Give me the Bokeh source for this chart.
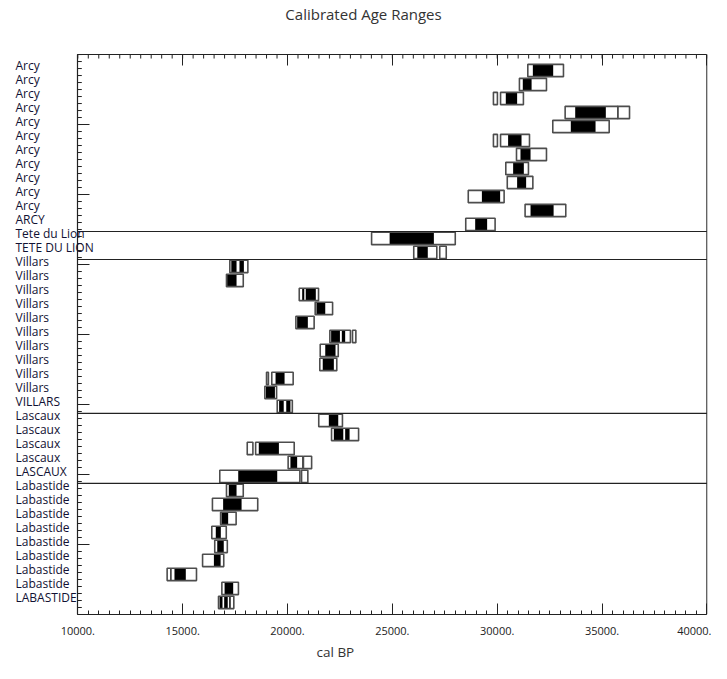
from bokeh.plotting import figure
from bokeh.models import (Range1d, LinearAxis, FixedTicker, CustomJSTickFormatter,
                          ColumnDataSource, LabelSet, Label, Title)
from bokeh.core.properties import value
from bokeh.embed import file_html
from bokeh.resources import INLINE

# ---------------- data ----------------
sample_labels = (["Arcy"] * 11 + ["ARCY"] + ["Tete du Lion", "TETE DU LION"] +
                 ["Villars"] * 10 + ["VILLARS"] + ["Lascaux"] * 4 + ["LASCAUX"] +
                 ["Labastide"] * 8 + ["LABASTIDE"])

# 2-sigma ranges (white boxes), cal BP, one list per row (top to bottom)
two_sigma = [
    [(31460, 33160)],
    [(31060, 32350)],
    [(29820, 30010), (30160, 31250)],
    [(33240, 35750), (35750, 36310)],
    [(32650, 35340)],
    [(29820, 30010), (30160, 31540)],
    [(30920, 32350)],
    [(30410, 31490)],
    [(30480, 31700)],
    [(28620, 30330)],
    [(31330, 33270)],
    [(28500, 29900)],
    [(24010, 28000)],
    [(26020, 27120), (27260, 27570)],
    [(17250, 18110)],
    [(17090, 17890)],
    [(20560, 21480)],
    [(21320, 22150)],
    [(20400, 21270)],
    [(22020, 23000), (23100, 23260)],
    [(21560, 22420)],
    [(21540, 22350)],
    [(19000, 19090), (19250, 20270)],
    [(18920, 19480)],
    [(19510, 20230)],
    [(21490, 22620)],
    [(22100, 23390)],
    [(18080, 18350), (18480, 20320)],
    [(20030, 20730), (20760, 21150)],
    [(16770, 20590), (20670, 20970)],
    [(17090, 17890)],
    [(16420, 18580)],
    [(16810, 17550)],
    [(16390, 17080)],
    [(16530, 17130)],
    [(15950, 16960)],
    [(14260, 15660)],
    [(16870, 17660)],
    [(16710, 17440)],
]

# 1-sigma ranges (black fills)
one_sigma = [
    [(31700, 32670)],
    [(31220, 31640)],
    [(30410, 30950)],
    [(33720, 35180)],
    [(33510, 34690)],
    [(30520, 31160)],
    [(31110, 31590)],
    [(30760, 31270)],
    [(30950, 31380)],
    [(29270, 30140)],
    [(31590, 32690)],
    [(28950, 29520)],
    [(24870, 26980)],
    [(26190, 26690)],
    [(17320, 17570), (17710, 17920)],
    [(17120, 17570)],
    [(20700, 20800), (20870, 21350)],
    [(21380, 21800)],
    [(20460, 20970)],
    [(22080, 22500), (22590, 22750)],
    [(21800, 22290)],
    [(21680, 22210)],
    [(19430, 19860)],
    [(18970, 19400)],
    [(19600, 19820), (19940, 20140)],
    [(21970, 22420)],
    [(22210, 22660), (22750, 22960)],
    [(18630, 19590)],
    [(20140, 20460)],
    [(17650, 19510)],
    [(17200, 17570)],
    [(16930, 17810)],
    [(16850, 17170)],
    [(16580, 16820)],
    [(16650, 16960)],
    [(16490, 16810)],
    [(14410, 14470), (14610, 15150)],
    [(17000, 17410)],
    [(16760, 16900), (16980, 17150), (17220, 17290)],
]

group_sizes = [12, 2, 11, 5, 9]

x_tick_values = [10000, 15000, 20000, 25000, 30000, 35000, 40000]
x_tick_labels = ["10000.", "15000.", "20000.", "25000.", "30000.", "35000.", "40000."]

title_text = "Calibrated Age Ranges"
x_title = "cal BP"

# ---------------- layout ----------------
# rows run downward: row i is drawn at y = -(i + ROW_OFF); box spans y 0 .. -40
ROW_OFF = 1.14
HALF_H = 0.44
FONT = "Open Sans"
X0, X1 = x_tick_values[0], x_tick_values[-1]
YTOP, YBOT = 0, -40
UPP = 47.69         # x data units per pixel
PPY = 13.99         # pixels per y unit
AX = "#222222"

def row_y(i):
    return -(i + ROW_OFF)

def flatten(ranges):
    l, r, t, b = [], [], [], []
    for i, row in enumerate(ranges):
        yc = row_y(i)
        for a, c in row:
            l.append(a); r.append(c); t.append(yc + HALF_H); b.append(yc - HALF_H)
    return ColumnDataSource(dict(left=l, right=r, top=t, bottom=b))

outer_src = flatten(two_sigma)
inner_src = flatten(one_sigma)

p = figure(width=711, height=663, output_backend="svg", toolbar_location=None,
           x_range=Range1d(X0 - 77.3 * UPP, X1 + 0.6 * UPP),
           y_range=Range1d(YBOT, YTOP + 54 / PPY),
           x_axis_type=None, y_axis_type=None,
           min_border_left=0, min_border_right=4, min_border_top=0,
           min_border_bottom=49)
p.grid.visible = False
p.outline_line_color = None
p.background_fill_color = "white"
p.border_fill_color = "white"

minor_x = [X0 + 500 * i for i in range(61)]
minor_y = [YBOT + 0.5 * i for i in range(81)]
blank = CustomJSTickFormatter(code="return ''")

def style(ax, major_len, minor_len):
    ax.axis_line_color = AX
    ax.axis_line_width = 1.2
    ax.major_tick_line_color = AX
    ax.minor_tick_line_color = AX if minor_len else None
    ax.major_tick_in = major_len
    ax.major_tick_out = 0
    ax.minor_tick_in = minor_len
    ax.minor_tick_out = 0

xb = LinearAxis(ticker=FixedTicker(ticks=x_tick_values, minor_ticks=minor_x), bounds=(X0, X1))
xb.major_label_overrides = {v: s for v, s in zip(x_tick_values, x_tick_labels)}
xb.major_label_text_font = FONT
xb.major_label_text_font_size = "11px"
xb.major_label_text_color = AX
xb.major_label_standoff = 12
style(xb, 11, 4)
p.add_layout(xb, "below")

xt = LinearAxis(ticker=FixedTicker(ticks=x_tick_values), bounds=(X0, X1),
                formatter=blank, fixed_location=YTOP)
xt.major_label_standoff = 0
style(xt, 11, 0)
p.add_layout(xt, "above")

yl = LinearAxis(ticker=FixedTicker(ticks=list(range(YBOT, YTOP + 1, 5))),
                formatter=blank, fixed_location=X0, bounds=(YBOT, YTOP))
yl.major_label_standoff = 0
style(yl, 12, 0)
p.add_layout(yl, "left")

# small ticks on the top and left edges (4 px long, pointing inward)
p.segment(x0=minor_x, x1=minor_x, y0=[YTOP] * len(minor_x),
          y1=[YTOP - 4 / PPY] * len(minor_x), line_color=AX, line_width=1)
p.segment(x0=[X0] * len(minor_y), x1=[X0 + 4 * UPP] * len(minor_y), y0=minor_y,
          y1=minor_y, line_color=AX, line_width=1)

# right edge of the box
p.segment(x0=[X1], x1=[X1], y0=[YTOP], y1=[YBOT], line_color=AX, line_width=1.2)

# boxes
p.quad(left="left", right="right", top="top", bottom="bottom", source=outer_src,
       fill_color="white", line_color=None)
p.quad(left="left", right="right", top="top", bottom="bottom", source=inner_src,
       fill_color="black", line_color=None)
p.quad(left="left", right="right", top="top", bottom="bottom", source=outer_src,
       fill_alpha=0, line_color="#4d4d4d", line_width=1.6)

# group separators
seps = []
edge = 0
for g in group_sizes[:-1]:
    edge += g
    seps.append(row_y(edge - 1) - 0.5)
p.segment(x0=[X0] * len(seps), x1=[X1] * len(seps), y0=seps, y1=seps,
          line_color=AX, line_width=1.2)

# row labels
lab_src = ColumnDataSource(dict(x=[X0 - 62.3 * UPP] * len(sample_labels),
                                y=[row_y(i) + 0.36 for i in range(len(sample_labels))],
                                text=sample_labels))
p.add_layout(LabelSet(x="x", y="y", text="text", source=lab_src, text_font=value(FONT),
                      text_font_size=value("12px"), text_color=value("#111133"),
                      text_align="left", text_baseline="middle"))

p.add_layout(Label(x=X0 + 285.7 * UPP, y=YTOP + 41 / PPY, text=title_text, text_font=FONT,
                   text_font_size="15px", text_color="#333333",
                   text_align="center", text_baseline="middle"))
p.add_layout(Title(text=x_title, align="left", offset=316, standoff=6,
                   text_font=FONT, text_font_size="13.5px", text_font_style="normal",
                   text_color="#333333"), "below")

open("out.html", "w").write(file_html(p, INLINE))
